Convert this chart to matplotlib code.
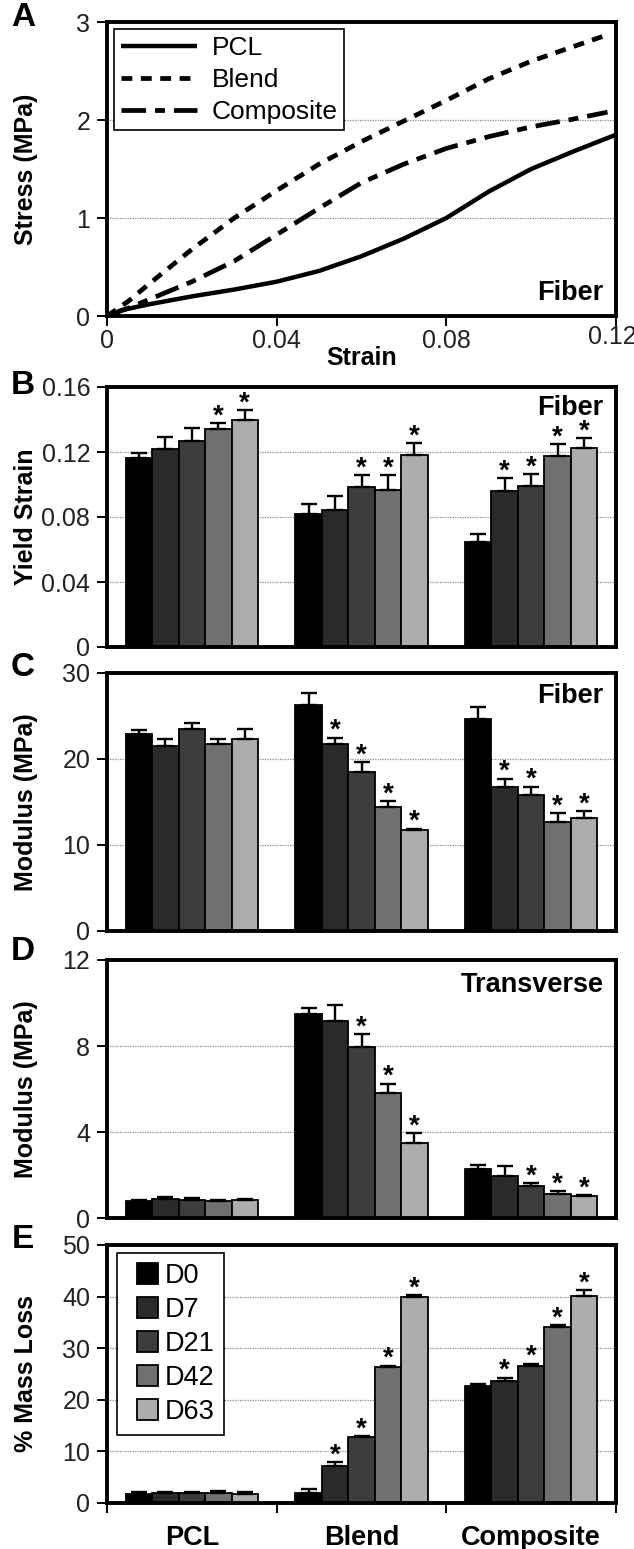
import numpy as np
import matplotlib
matplotlib.use("Agg")
import matplotlib.pyplot as plt
from matplotlib.patches import Patch, Rectangle
from matplotlib.legend_handler import HandlerPatch

# ---------------- data ----------------
materials = ["PCL", "Blend", "Composite"]
days = ["D0", "D7", "D21", "D42", "D63"]
day_colors = ["#000000", "#2a2a2a", "#3d3d3d", "#707070", "#adadad"]

# Panel A: stress-strain curves
pcl_strain = [0.0, 0.0035, 0.01, 0.02, 0.03, 0.04, 0.05, 0.06, 0.07, 0.08, 0.09, 0.10, 0.11, 0.12]
pcl_stress = [0.0, 0.06, 0.12, 0.20, 0.27, 0.35, 0.46, 0.61, 0.79, 1.00, 1.27, 1.50, 1.68, 1.85]
blend_strain = [0.0, 0.005, 0.01, 0.02, 0.03, 0.04, 0.05, 0.06, 0.07, 0.08, 0.09, 0.10, 0.11, 0.118]
blend_stress = [0.0, 0.15, 0.33, 0.68, 1.00, 1.28, 1.55, 1.78, 1.99, 2.20, 2.42, 2.60, 2.75, 2.87]
comp_strain = [0.0, 0.005, 0.01, 0.02, 0.03, 0.04, 0.05, 0.06, 0.07, 0.08, 0.09, 0.10, 0.11, 0.118]
comp_stress = [0.0, 0.08, 0.17, 0.35, 0.56, 0.83, 1.10, 1.36, 1.55, 1.71, 1.83, 1.93, 2.01, 2.08]
strain_ticks = [0, 0.04, 0.08, 0.12]
strain_ticklabels = ["0", "0.04", "0.08", "0.12"]

# Panel B: yield strain (rows = materials, cols = days)
yield_mean = [[0.1165, 0.1216, 0.1268, 0.1340, 0.1395],
              [0.0816, 0.0841, 0.0985, 0.0964, 0.1180],
              [0.0646, 0.0960, 0.0993, 0.1173, 0.1227]]
yield_err = [[0.0029, 0.0074, 0.0082, 0.0038, 0.0061],
             [0.0066, 0.0088, 0.0073, 0.0092, 0.0075],
             [0.0051, 0.0080, 0.0069, 0.0074, 0.0059]]
yield_star = [[0, 0, 0, 1, 1], [0, 0, 1, 1, 1], [0, 1, 1, 1, 1]]

# Panel C: fiber modulus
fmod_mean = [[22.9, 21.5, 23.5, 21.7, 22.3],
             [26.3, 21.8, 18.5, 14.4, 11.7],
             [24.6, 16.8, 15.8, 12.7, 13.1]]
fmod_err = [[0.5, 0.8, 0.7, 0.6, 1.2],
            [1.4, 0.7, 1.1, 0.7, 0.2],
            [1.4, 0.9, 1.0, 1.0, 0.8]]
fmod_star = [[0, 0, 0, 0, 0], [0, 1, 1, 1, 1], [0, 1, 1, 1, 1]]

# Panel D: transverse modulus
tmod_mean = [[0.80, 0.88, 0.82, 0.77, 0.82],
             [9.49, 9.18, 7.97, 5.81, 3.48],
             [2.28, 1.94, 1.47, 1.13, 1.01]]
tmod_err = [[0.05, 0.08, 0.10, 0.08, 0.06],
            [0.27, 0.73, 0.59, 0.43, 0.47],
            [0.18, 0.49, 0.16, 0.11, 0.04]]
tmod_star = [[0, 0, 0, 0, 0], [0, 0, 1, 1, 1], [0, 0, 1, 1, 1]]

# Panel E: mass loss
mass_mean = [[1.80, 1.94, 1.87, 1.94, 1.80],
             [1.94, 7.10, 12.70, 26.30, 40.00],
             [22.70, 23.60, 26.60, 34.10, 40.10]]
mass_err = [[0.26, 0.16, 0.23, 0.32, 0.26],
            [0.76, 0.77, 0.20, 0.30, 0.30],
            [0.40, 0.70, 0.40, 0.40, 1.20]]
mass_star = [[0, 0, 0, 0, 0], [0, 1, 1, 1, 1], [0, 1, 1, 1, 1]]

# ---------------- style ----------------
TICKFONT = ["Liberation Sans Narrow", "Liberation Sans", "DejaVu Sans"]
BOLDFONT = ["Liberation Sans", "DejaVu Sans"]
plt.rcParams["font.family"] = BOLDFONT

W, H = 634, 1549
fig = plt.figure(figsize=(W / 100, H / 100), dpi=100)

LEFT, RIGHT = 107, 616
LABEL_FS = 18
TAG_FS = 19.5
TICK_FS = 18


def add_axes(top, bottom):
    return fig.add_axes([LEFT / W, 1 - bottom / H, (RIGHT - LEFT) / W, (bottom - top) / H])


def style_axes(ax):
    for s in ax.spines.values():
        s.set_linewidth(2.8)
        s.set_color("black")
    ax.tick_params(axis="y", direction="out", length=7, width=1.4, pad=5)
    for lab in ax.get_yticklabels() + ax.get_xticklabels():
        lab.set_fontfamily(TICKFONT)
        lab.set_fontsize(TICK_FS)
        lab.set_color("#222222")
    ax.set_axisbelow(True)


def ylab(ax, text):
    ax.set_ylabel(text, fontsize=LABEL_FS, fontweight="bold", family=BOLDFONT)
    ax.yaxis.set_label_coords(-0.136, 0.5)


# ---------------- Panel A ----------------
axA = add_axes(22, 316)
axA.plot(pcl_strain, pcl_stress, color="black", lw=3.2, solid_capstyle="butt", label="PCL")
axA.plot(blend_strain, blend_stress, color="black", lw=3.4, linestyle=(0, (2.3, 1.8)), label="Blend")
axA.plot(comp_strain, comp_stress, color="black", lw=3.4, linestyle=(0, (5.2, 1.9, 2.1, 1.9)), label="Composite")
axA.set_xlim(0, 0.12)
axA.set_ylim(0, 3)
axA.set_xticks(strain_ticks)
# last tick label drawn separately so it can be nudged inside the canvas
axA.set_xticklabels(strain_ticklabels[:-1] + [""])
axA.annotate(strain_ticklabels[-1], xy=(strain_ticks[-1], 0), xycoords=("data", "axes fraction"),
             xytext=(-2.5, -6.5), textcoords="offset points", ha="center", va="top",
             fontsize=TICK_FS, family=TICKFONT, color="#222222")
axA.set_yticks([0, 1, 2, 3])
axA.set_yticklabels(["0", "1", "2", "3"])
axA.yaxis.grid(True, color="#8a8a8a", linestyle=(0, (1, 1)), lw=0.9)
axA.tick_params(axis="x", direction="out", length=7, width=1.4, pad=2)
style_axes(axA)
ylab(axA, "Stress (MPa)")
axA.set_xlabel("Strain", fontsize=LABEL_FS, fontweight="bold", labelpad=-5)
axA.text(0.975, 0.035, "Fiber", transform=axA.transAxes, ha="right", va="bottom",
         fontsize=TAG_FS, fontweight="bold")
legA = axA.legend(loc="upper left", bbox_to_anchor=(0.014, 0.975), fontsize=19,
                  frameon=True, fancybox=False, edgecolor="black", framealpha=1,
                  handlelength=2.9, handletextpad=0.55, labelspacing=0.3,
                  borderpad=0.25, borderaxespad=0.0)
legA.get_frame().set_linewidth(1.2)

# ---------------- Bar panels ----------------
x = np.arange(len(materials))
bw = 0.156


def bar_panel(ax, mean, err, star, ymax, ticks, ticklabels):
    mean = np.array(mean)
    err = np.array(err)
    for j in range(len(days)):
        xs = x + (j - 2) * bw
        ax.bar(xs, mean[:, j], width=bw, color=day_colors[j], edgecolor="black",
               linewidth=1.3, zorder=2, label=days[j])
        ax.errorbar(xs, mean[:, j], yerr=[np.zeros(3), err[:, j]], fmt="none",
                    ecolor="black", elinewidth=1.7, capsize=6, capthick=1.7, zorder=3)
        for i in range(3):
            if star[i][j]:
                ax.annotate("*", (xs[i], mean[i, j] + err[i, j]), xytext=(0, -4.5),
                            textcoords="offset points", ha="center", va="bottom",
                            fontsize=20, fontweight="bold", zorder=4)
    ax.set_xlim(-0.5, 2.5)
    ax.set_ylim(0, ymax)
    ax.set_yticks(ticks)
    ax.set_yticklabels(ticklabels)
    ax.yaxis.grid(True, color="#8a8a8a", linestyle=(0, (1, 1)), lw=0.9, zorder=0)
    ax.set_xticks([])
    style_axes(ax)


axB = add_axes(387, 647)
bar_panel(axB, yield_mean, yield_err, yield_star, 0.16,
          [0, 0.04, 0.08, 0.12, 0.16], ["0", "0.04", "0.08", "0.12", "0.16"])
ylab(axB, "Yield Strain")
axB.text(0.975, 0.97, "Fiber", transform=axB.transAxes, ha="right", va="top",
         fontsize=TAG_FS, fontweight="bold")

axC = add_axes(673, 931)
bar_panel(axC, fmod_mean, fmod_err, fmod_star, 30,
          [0, 10, 20, 30], ["0", "10", "20", "30"])
ylab(axC, "Modulus (MPa)")
axC.text(0.975, 0.96, "Fiber", transform=axC.transAxes, ha="right", va="top",
         fontsize=TAG_FS, fontweight="bold")

axD = add_axes(960, 1218)
bar_panel(axD, tmod_mean, tmod_err, tmod_star, 12,
          [0, 4, 8, 12], ["0", "4", "8", "12"])
ylab(axD, "Modulus (MPa)")
axD.text(0.975, 0.955, "Transverse", transform=axD.transAxes, ha="right", va="top",
         fontsize=TAG_FS, fontweight="bold")

axE = add_axes(1245, 1503)
bar_panel(axE, mass_mean, mass_err, mass_star, 50,
          [0, 10, 20, 30, 40, 50], ["0", "10", "20", "30", "40", "50"])
ylab(axE, "% Mass Loss")
axE.set_xticks(x)
axE.set_xticklabels(materials)
axE.tick_params(axis="x", which="major", length=0, pad=16)
axE.set_xticks([-0.5, 0.5, 1.5, 2.5], minor=True)
axE.tick_params(axis="x", which="minor", direction="out", length=7, width=1.4)
for lab in axE.get_xticklabels():
    lab.set_fontfamily(BOLDFONT)
    lab.set_fontsize(19.5)
    lab.set_fontweight("bold")
    lab.set_color("black")


def square_patch(legend, orig_handle, xdescent, ydescent, width, height, fontsize):
    s = 0.78 * fontsize
    return Rectangle((-xdescent + width - s, -ydescent + (height - s) / 2), s, s)


handles = [Patch(facecolor=c, edgecolor="black", linewidth=1.3) for c in day_colors]
legE = axE.legend(handles, days, loc="upper left", bbox_to_anchor=(0.02, 0.968),
                  fontsize=19.5, frameon=True, fancybox=False, edgecolor="black",
                  framealpha=1, handlelength=1.15, handleheight=0.8,
                  handletextpad=0.25, labelspacing=0.3, borderpad=0.35, borderaxespad=0.0,
                  handler_map={Patch: HandlerPatch(patch_func=square_patch)})
legE.get_frame().set_linewidth(1.2)

# ---------------- panel letters ----------------
for letter, yc in zip("ABCDE", [18, 385, 667, 952, 1240]):
    fig.text(23 / W, 1 - yc / H, letter, fontsize=24, fontweight="bold",
             ha="center", va="center", family=BOLDFONT)

fig.savefig("out.png", dpi=100)
